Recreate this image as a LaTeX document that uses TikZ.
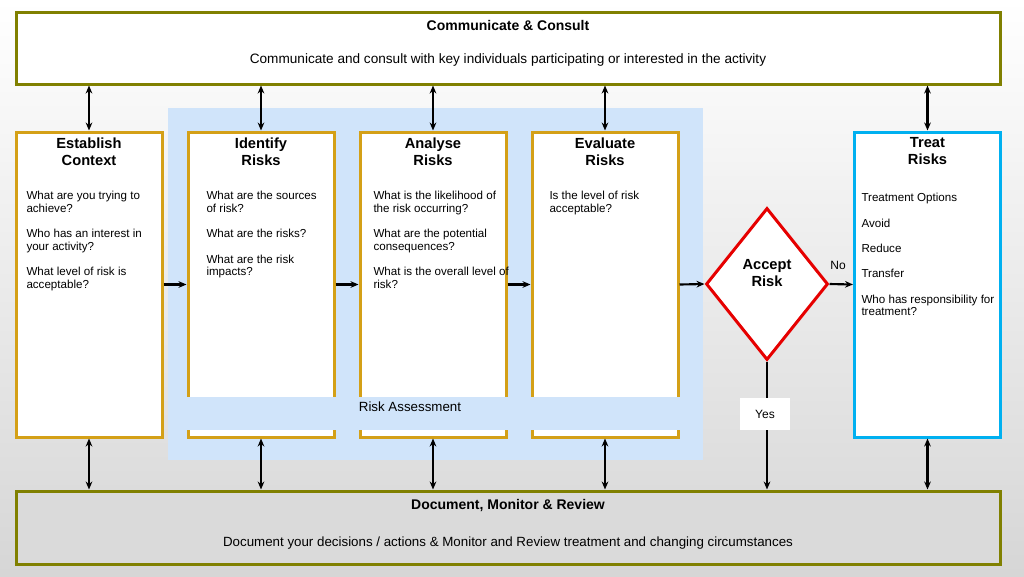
\documentclass[tikz,border=0pt]{standalone}
\usepackage{fontspec}
\setmainfont{Liberation Sans}
\usetikzlibrary{shapes.geometric,arrows.meta}

\tikzset{every picture/.style={line width=0.75pt}}
\tikzset{
  olivebox/.style={rectangle, draw={rgb, 255:red, 128; green, 128; blue, 0 }, line width=2.25pt, minimum width=738pt, minimum height=54pt, inner sep=0pt},
  colbox/.style={rectangle, draw={rgb, 255:red, 212; green, 160; blue, 23 }, line width=2.25pt, fill=white, minimum width=109.5pt, minimum height=228.75pt, inner sep=0pt},
  coltitle/.style={inner sep=0pt, align=center, font=\fontsize{11}{12.75}\selectfont\bfseries},
  coltext/.style={anchor=north west, inner sep=0pt, align=left, font=\fontsize{8.7}{9.5}\selectfont},
  dblarr/.style={{Stealth[length=6pt,width=5pt]}-{Stealth[length=6pt,width=5pt]}, line width=1.6pt},
  arr/.style={-{Stealth[length=6pt,width=5pt]}, line width=1.6pt},
}

\begin{document}
\begin{tikzpicture}[x=0.75pt,y=0.75pt,yscale=-1,xscale=1]
%Background
\shade [top color=white, bottom color={rgb, 255:red, 214; green, 214; blue, 214 }] (0,0) rectangle (1024,576);
%Shape: Rectangle (risk assessment area)
\fill [color={rgb, 255:red, 208; green, 228; blue, 250 }] (168,108) rectangle (703,460);

%Shape: Rectangle (top and bottom)
\node (comm) [olivebox, fill=white] at (508,48) {};
\node (dmr) [olivebox, fill={rgb, 255:red, 218; green, 218; blue, 218 }, minimum height=54.75pt] at (508,527.5) {};

%Shape: Rectangle (steps)
\node (ec) [colbox] at (89,284.5) {};
\node (ir) [colbox] at (261,284.5) {};
\node (ar) [colbox] at (433,284.5) {};
\node (er) [colbox] at (605,284.5) {};
\node (tr) [colbox, draw={rgb, 255:red, 0; green, 176; blue, 240 }] at (927.5,284.5) {};

%Shape: Rectangle (band)
\fill [color={rgb, 255:red, 208; green, 228; blue, 250 }] (168,397) rectangle (703,430);

% Text Node
\node (commtitle) [inner sep=0pt, font=\fontsize{10.5}{12}\selectfont\bfseries] at (508,25) {Communicate \& Consult};
% Text Node
\node (commtext) [inner sep=0pt, font=\fontsize{10.2}{12}\selectfont] at (508,60) {Communicate and consult with key individuals participating or interested in the activity};
% Text Node
\node (dmrtitle) [inner sep=0pt, font=\fontsize{10.5}{12}\selectfont\bfseries] at (508,505) {Document, Monitor \& Review};
% Text Node
\node (dmrtext) [inner sep=0pt, font=\fontsize{10}{12}\selectfont] at (508,543) {Document your decisions / actions \& Monitor and Review treatment and changing circumstances};

% Text Node
\node (ectitle) [coltitle] at (89,151.5) {Establish\\Context};
\node (irtitle) [coltitle] at (261,151.5) {Identify\\Risks};
\node (artitle) [coltitle] at (433,151.5) {Analyse\\Risks};
\node (ertitle) [coltitle] at (605,151.5) {Evaluate\\Risks};
\node (trtitle) [coltitle] at (927.5,151.5) {Treat\\Risks};

% Text Node
\node (ectext) [coltext] at (26,191) {What are you trying to\\achieve?\\[9.5pt]Who has an interest in\\your activity?\\[9.5pt]What level of risk is\\acceptable?};
% Text Node
\node (irtext) [coltext] at (206,191) {What are the sources\\of risk?\\[9.5pt]What are the risks?\\[9.5pt]What are the risk\\impacts?};
% Text Node
\node (artext) [coltext] at (373,191) {What is the likelihood of\\the risk occurring?\\[9.5pt]What are the potential\\consequences?\\[9.5pt]What is the overall level of\\risk?};
% Text Node
\node (ertext) [coltext] at (549,191) {Is the level of risk\\acceptable?};
% Text Node
\node (trtext) [coltext] at (861,193) {Treatment Options\\[9.5pt]Avoid\\[9.5pt]Reduce\\[9.5pt]Transfer\\[9.5pt]Who has responsibility for\\treatment?};
% Text Node
\node (ratext) [inner sep=0pt, font=\fontsize{10}{12}\selectfont] at (410,407) {Risk Assessment};

%Straight Lines (to communicate and to document)
\foreach \s in {ec,ir,ar,er,tr}{
  \draw [dblarr] (\s.north) -- (\s.north |- comm.south);
  \draw [dblarr] (\s.south) -- (\s.south |- dmr.north);
}
%Straight Lines (process)
\draw [arr] (ec.east) -- (ir.west);
\draw [arr] (ir.east) -- (ar.west);
\draw [arr] (ar.east) -- (er.west);

%Shape: Diamond
\node (acc) [diamond, draw={rgb, 255:red, 230; green, 0; blue, 0 }, line width=2.25pt, fill=white, minimum width=91.5pt, minimum height=114pt, inner sep=0pt] at (767,284) {};
% Text Node
\node (acctext) [coltitle] at (767,273.5) {Accept\\Risk};
\draw [arr] (er.east) -- (acc.west);
\draw [arr] (acc.east) -- (tr.west);
\draw [arr] (acc.south) -- (acc.south |- dmr.north);
% Text Node
\node (no) [inner sep=0pt, font=\fontsize{9}{11}\selectfont] at (838,265) {No};
% Text Node
\node (yes) [fill=white, minimum width=37.5pt, minimum height=24pt, inner sep=0pt, font=\fontsize{9}{11}\selectfont] at (765,414) {Yes};

\end{tikzpicture}
\end{document}
